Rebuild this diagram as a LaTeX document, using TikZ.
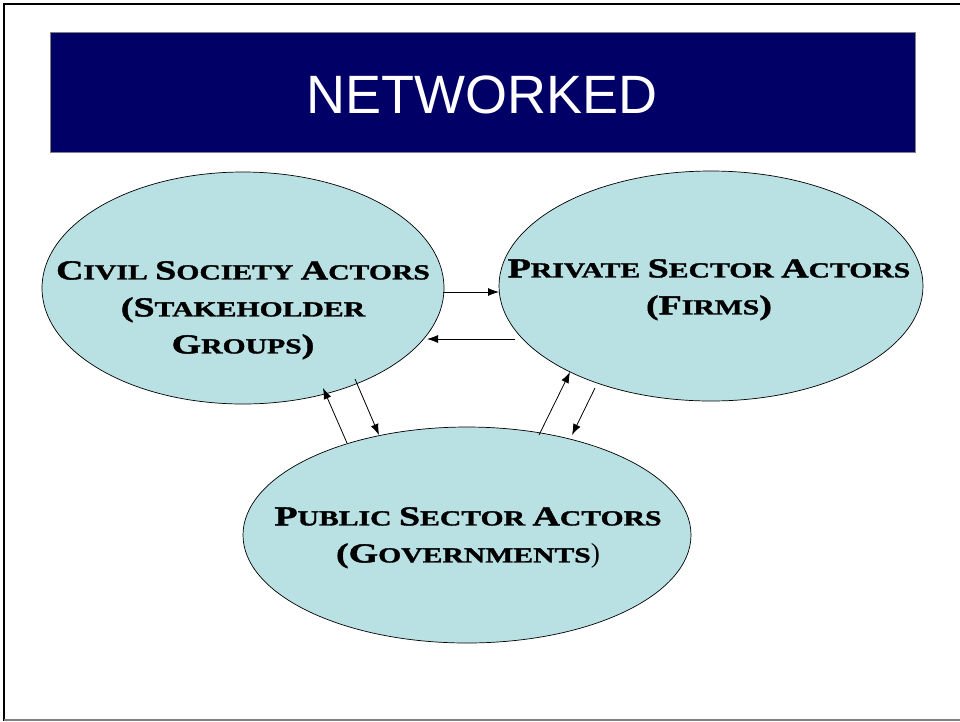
\documentclass[tikz,border=0pt]{standalone}
\usepackage{fontspec}
\setmainfont{Liberation Serif}
\newfontfamily\actorfont[FakeStretch=1.38,FakeBold=1.5]{Liberation Serif}
\newfontfamily\titlefont{Liberation Sans}
\usetikzlibrary{shapes.geometric,arrows.meta}
\definecolor{navy}{RGB}{0,0,102}
\definecolor{bubble}{RGB}{185,224,227}
\newcommand\BC[1]{{\fontsize{27.5}{37}\selectfont #1}}
\tikzset{
  actor/.style={ellipse,draw=black,line width=0.7pt,fill=bubble,inner sep=0pt},
  actortext/.style={align=center,font=\actorfont\bfseries\fontsize{21.5}{37}\selectfont,inner sep=0pt,anchor=north},
  link/.style={line width=0.8pt,-{Latex[length=11pt,width=8pt]}}
}
\begin{document}
\begin{tikzpicture}[x=1pt,y=-1pt]
\useasboundingbox (0,0) rectangle (960,721);
% frame
\draw[line width=2.5pt,black] (960,4) -- (4,4) -- (4,721);
\draw[line width=1.5pt,gray] (4,720) -- (960,720);
% title
\node[draw=gray,line width=0.8pt,fill=navy,minimum width=865pt,minimum height=120pt,inner sep=0pt,anchor=north west] (title) at (50,32) {};
\node[text=white,font=\titlefont\fontsize{54}{60}\selectfont,anchor=base,inner sep=0pt] (titletext) at (482,113) {NETWORKED};
% ellipses
\node[actor,minimum width=402pt,minimum height=232pt] (civ) at (243,288) {};
\node[actor,minimum width=424pt,minimum height=230pt] (pri) at (711,286) {};
\node[actor,minimum width=448pt,minimum height=216pt] (pub) at (467,535) {};
% texts
\node[actortext] (civT) at (243,261) {\BC{C}IVIL \BC{S}OCIETY \BC{A}CTORS\\\BC{(S}TAKEHOLDER\\\BC{G}ROUPS\BC{)}};
\node[actortext] (priT) at (709,259) {\BC{P}RIVATE \BC{S}ECTOR \BC{A}CTORS\\\BC{(F}IRMS\BC{)}};
\node[actortext] (pubT) at (468,507) {\BC{P}UBLIC \BC{S}ECTOR \BC{A}CTORS\\\BC{(G}OVERNMENTS{\rmfamily\mdseries\BC{)}}};
% arrow end points
\coordinate (a1s) at (443,292); \coordinate (a1e) at (499,292);
\coordinate (a2s) at (515,339); \coordinate (a2e) at (427,339);
\coordinate (a3s) at (347,443); \coordinate (a3e) at (323,388);
\coordinate (a4s) at (355,379); \coordinate (a4e) at (379,435);
\coordinate (a5s) at (539,435); \coordinate (a5e) at (570,372);
\coordinate (a6s) at (595,388); \coordinate (a6e) at (572,435);
\draw[link] (a1s) -- (a1e);
\draw[link] (a2s) -- (a2e);
\draw[link] (a3s) -- (a3e);
\draw[link] (a4s) -- (a4e);
\draw[link] (a5s) -- (a5e);
\draw[link] (a6s) -- (a6e);
\end{tikzpicture}
\end{document}
